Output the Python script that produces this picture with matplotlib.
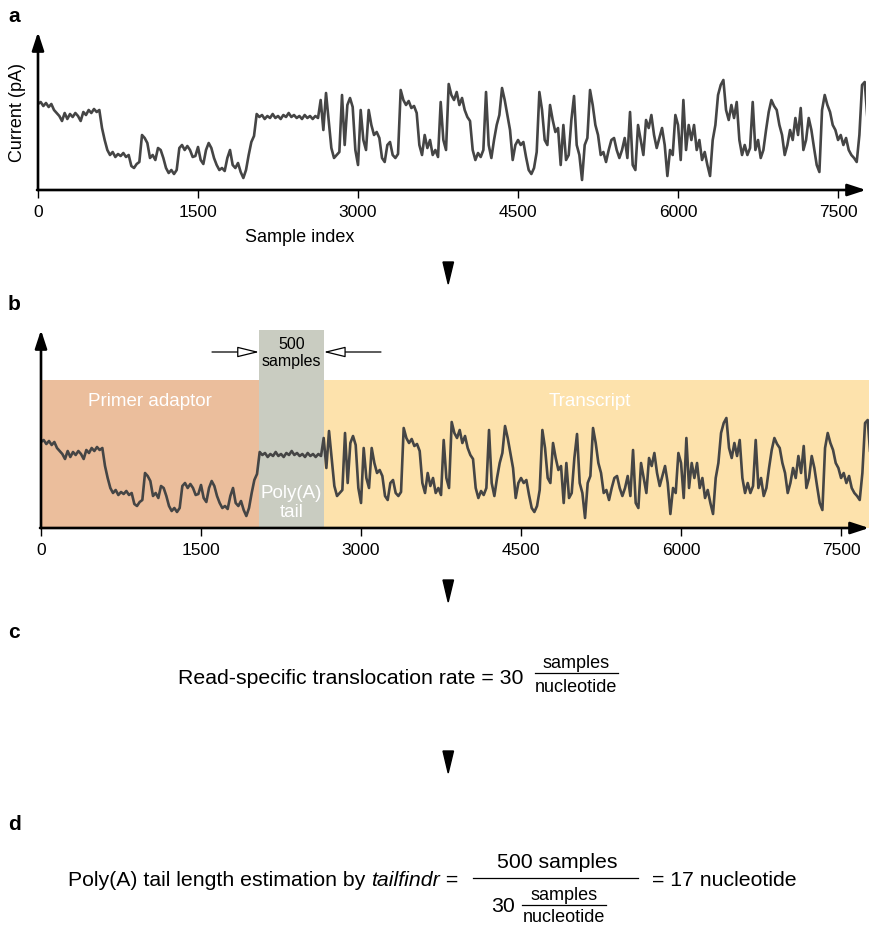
import numpy as np
import matplotlib
matplotlib.use("Agg")
import matplotlib.pyplot as plt
from matplotlib.patches import Polygon
from matplotlib.lines import Line2D

plt.rcParams['font.family'] = ['Liberation Sans', 'DejaVu Sans']

# ---------------- data ----------------
sample_step = 25  # samples between successive readings
current = [
    85, 87, 83, 86, 82, 85, 79, 76, 73, 68, 76, 70, 75, 72, 76, 73, 68, 77, 74, 79,
    76, 80, 77, 79, 61, 49, 39, 34, 37, 32, 35, 33, 36, 32, 34, 23, 21, 25, 27, 54,
    51, 46, 31, 34, 29, 41, 39, 31, 21, 16, 19, 15, 19, 41, 44, 39, 43, 39, 32, 33,
    42, 29, 25, 39, 46, 41, 31, 24, 19, 21, 18, 31, 39, 24, 21, 26, 17, 11, 19, 34,
    47, 53, 75, 72, 74, 70, 73, 71, 75, 71, 73, 70, 74, 72, 76, 72, 74, 71, 73, 70,
    74, 71, 73, 70, 73, 71, 89, 59, 96, 69, 41, 31, 34, 37, 94, 44, 84, 91, 82, 39,
    24, 79, 49, 39, 79, 64, 54, 57, 51, 31, 27, 44, 47, 34, 31, 35, 99, 89, 84, 88,
    81, 83, 76, 44, 34, 54, 41, 49, 34, 39, 32, 87, 49, 39, 105, 94, 89, 97, 84, 91,
    79, 72, 68, 39, 29, 36, 32, 39, 97, 44, 31, 49, 64, 74, 101, 89, 74, 59, 29, 44,
    49, 44, 47, 32, 19, 15, 21, 37, 97, 79, 49, 44, 84, 69, 57, 61, 24, 64, 29, 34,
    69, 93, 44, 34, 9, 44, 51, 99, 84, 64, 54, 34, 37, 27, 39, 49, 51, 39, 31, 39,
    51, 31, 77, 24, 19, 64, 49, 34, 69, 61, 74, 54, 41, 51, 61, 44, 13, 39, 34, 74,
    64, 29, 89, 39, 64, 49, 64, 39, 49, 29, 37, 24, 13, 49, 64, 94, 104, 109, 79, 69,
    84, 71, 87, 49, 34, 44, 34, 41, 87, 39, 49, 31, 39, 59, 77, 89, 83, 79, 64, 54,
    34, 44, 59, 49, 71, 54, 81, 39, 49, 71, 59, 41, 24, 17, 79, 94, 84, 77, 64, 59,
    49, 54, 44, 51, 39, 34, 31, 27, 54, 104, 107, 71,
]
sample = np.arange(len(current)) * sample_step

xticks = [0, 1500, 3000, 4500, 6000, 7500]
xlim_max = 7762

region_names = ['Primer adaptor', 'Poly(A)\ntail', 'Transcript']
region_start = [0, 2045, 2650]
region_end = [2045, 2650, 7762]
region_top = [147, 197, 147]
region_colors = ['#EBBE9C', '#C9CCC1', '#FDE2AC']

polyA_samples = 500
rate = 30

# ---------------- layout helpers ----------------
W, H = 869, 926
fig = plt.figure(figsize=(W / 100, H / 100), dpi=100)


def rect(l, t, r, b):
    return [l / W, 1 - b / H, (r - l) / W, (b - t) / H]


def fx(x):
    return x / W


def fy(y):
    return 1 - y / H


def arrow_axes(ax):
    for s in ax.spines.values():
        s.set_visible(False)
    kw = dict(arrowstyle='-|>,head_length=1.1,head_width=0.36', lw=1.9,
              color='black', shrinkA=0, shrinkB=0, mutation_scale=10)
    ax.annotate('', xy=(0, 1), xytext=(0, 0), xycoords='axes fraction',
                arrowprops=kw, annotation_clip=False)
    ax.annotate('', xy=(1, 0), xytext=(-0.0012, 0), xycoords='axes fraction',
                arrowprops=kw, annotation_clip=False)
    ax.set_xticks(xticks)
    ax.set_xticklabels([str(t) for t in xticks])
    ax.tick_params(axis='x', direction='out', length=5.5, width=1.0, pad=5,
                   labelsize=12.5, colors='black')
    ax.tick_params(axis='y', left=False, labelleft=False)
    ax.set_xlim(0, xlim_max)
    ax.patch.set_alpha(0)


trace_kw = dict(color='#454545', lw=1.9, solid_joinstyle='round')

# ---------------- panel a ----------------
axA = fig.add_axes(rect(38, 32, 866, 190))
axA.plot(sample, current, **trace_kw)
axA.set_ylim(-1, 157)
arrow_axes(axA)
fig.text(fx(8), fy(16), 'a', fontsize=15, fontweight='bold', ha='left', va='center')
fig.text(fx(18), fy(112), 'Current (pA)', fontsize=13, rotation=90, ha='center', va='center')
fig.text(fx(300), fy(237), 'Sample index', fontsize=13, ha='center', va='center')

# ---------------- panel b ----------------
axB = fig.add_axes(rect(41, 330, 869, 528))
widths = np.subtract(region_end, region_start)
axB.bar(region_start, np.array(region_top) + 1, width=widths, bottom=-1,
        align='edge', color=region_colors, edgecolor='none', zorder=0)
axB.plot(sample, current, zorder=2, **trace_kw)
axB.set_ylim(-1, 197)
arrow_axes(axB)
fig.text(fx(8), fy(305), 'b', fontsize=15, fontweight='bold', ha='left', va='center')

centers = [(s + e) / 2 for s, e in zip(region_start, region_end)]
axB.text(centers[0], 125, region_names[0], color='white', fontsize=13.5,
         ha='center', va='center', zorder=3)
axB.text(centers[2] - 60, 125, region_names[2], color='white', fontsize=13.5,
         ha='center', va='center', zorder=3)
axB.text(centers[1], 24, region_names[1], color='white', fontsize=13.5,
         ha='center', va='center', linespacing=1.1, zorder=3)
axB.text(centers[1], 174, f'{polyA_samples}\nsamples', color='black', fontsize=11.5,
         ha='center', va='center', linespacing=1.15, zorder=3)
akw = dict(arrowstyle='-|>,head_length=1.35,head_width=0.33', lw=0.9,
           fc='white', ec='black', shrinkA=0, shrinkB=0, mutation_scale=10)
axB.annotate('', xy=(region_start[1], 175), xytext=(1603, 175), arrowprops=akw,
             annotation_clip=False)
axB.annotate('', xy=(region_end[1], 175), xytext=(3187, 175), arrowprops=akw,
             annotation_clip=False)

# ---------------- flow triangles ----------------
for top, bot in [(262, 284), (580, 602), (751, 773)]:
    tri = Polygon([(fx(443), fy(top)), (fx(453.5), fy(top)), (fx(448.2), fy(bot))],
                  closed=True, transform=fig.transFigure, color='black')
    fig.add_artist(tri)


def hline(x0, x1, y, lw=1.0):
    fig.add_artist(Line2D([fx(x0), fx(x1)], [fy(y), fy(y)], transform=fig.transFigure,
                          color='black', lw=lw))


# ---------------- panel c ----------------
fig.text(fx(8), fy(633), 'c', fontsize=15, fontweight='bold', ha='left', va='center')
fig.text(fx(178), fy(678), f'Read-specific translocation rate = {rate}', fontsize=15.3,
         ha='left', va='center')
fig.text(fx(576), fy(664), 'samples', fontsize=13, ha='center', va='center')
hline(535, 618, 673, 0.9)
fig.text(fx(576), fy(688), 'nucleotide', fontsize=13, ha='center', va='center')

# ---------------- panel d ----------------
fig.text(fx(8), fy(825), 'd', fontsize=15, fontweight='bold', ha='left', va='center')
renderer = fig.canvas.get_renderer()
t1 = fig.text(fx(68), fy(880), 'Poly(A) tail length estimation by ', fontsize=15.3,
              ha='left', va='center')
x_end = t1.get_window_extent(renderer).x1
t2 = fig.text(x_end / W, fy(880), 'tailfindr', fontsize=15.3, style='italic',
              ha='left', va='center')
x_end = t2.get_window_extent(renderer).x1
fig.text(x_end / W, fy(880), ' =', fontsize=15.3, ha='left', va='center')

fig.text(fx(557), fy(862), f'{polyA_samples} samples', fontsize=15.3, ha='center', va='center')
hline(473, 638, 878, 0.9)
fig.text(fx(503), fy(906), f'{rate}', fontsize=15.3, ha='center', va='center')
fig.text(fx(564), fy(896), 'samples', fontsize=13, ha='center', va='center')
hline(522, 606, 905, 0.9)
fig.text(fx(564), fy(917), 'nucleotide', fontsize=13, ha='center', va='center')
fig.text(fx(652), fy(880), f'= {round(polyA_samples / rate)} nucleotide', fontsize=15.3,
         ha='left', va='center')

fig.savefig('out.png', dpi=100)
